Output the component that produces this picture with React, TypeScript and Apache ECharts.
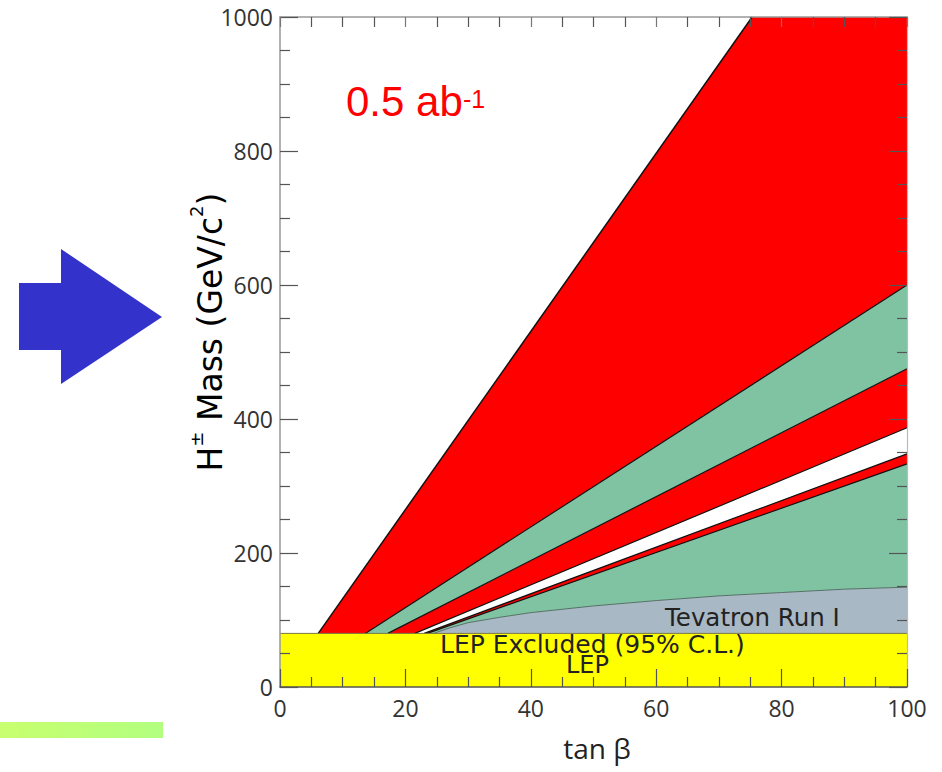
import React, { useEffect, useRef } from 'react';
import * as echarts from 'echarts';

// ---- data (tan beta, H+- mass in GeV/c^2) ----
const LEP_LIMIT = 80;
const X_RANGE = [0, 100];
const Y_RANGE = [0, 1000];
const topEdge = [[6.1, 80], [75.3, 1000]];
const redGreenUpper = [[13.6, 80], [100, 600]];
const greenRedLower = [[17.2, 80], [100, 475]];
const redWhite = [[21.5, 80], [100, 387]];
const whiteRed = [[23, 80], [100, 348]];
const redGreenLower = [[23.5, 80], [100, 333]];
const tevatronEdge = [
  [24.5, 80], [27, 88], [30, 96], [35, 104], [40, 111], [50, 121],
  [60, 129], [70, 136], [80, 141], [90, 146], [100, 149],
];

const RED = '#ff0000';
const GREEN = '#80c3a2';
const GRAY = '#a9b8c5';
const YELLOW = '#ffff00';

const rev = (a: number[][]) => a.slice().reverse();

const regions = [
  { color: YELLOW, pts: [[X_RANGE[0], 0], [X_RANGE[1], 0], [X_RANGE[1], LEP_LIMIT], [X_RANGE[0], LEP_LIMIT]] },
  { color: GRAY, pts: [...tevatronEdge, [X_RANGE[1], LEP_LIMIT]] },
  { color: GREEN, pts: [...redGreenLower, ...rev(tevatronEdge)] },
  { color: RED, pts: [...whiteRed, ...rev(redGreenLower)] },
  { color: RED, pts: [...greenRedLower, ...rev(redWhite)] },
  { color: GREEN, pts: [...redGreenUpper, ...rev(greenRedLower)] },
  { color: RED, pts: [...topEdge, [X_RANGE[1], Y_RANGE[1]], ...rev(redGreenUpper)] },
];

const boundaries = [
  { pts: topEdge, color: '#111', width: 1.5 },
  { pts: redGreenUpper, color: '#111', width: 1.2 },
  { pts: greenRedLower, color: '#111', width: 1.2 },
  { pts: redWhite, color: '#111', width: 1.2 },
  { pts: whiteRed, color: '#111', width: 1.2 },
  { pts: redGreenLower, color: '#111', width: 1.2 },
  { pts: tevatronEdge, color: '#557066', width: 1 },
  { pts: [[X_RANGE[0], LEP_LIMIT], [X_RANGE[1], LEP_LIMIT]], color: '#7a7a40', width: 1 },
];

const FONT = '"Open Sans", "Noto Sans", sans-serif';
const WIDE = '"DejaVu Sans", Verdana, sans-serif';

export default function App() {
  const ref = useRef<HTMLDivElement>(null);
  useEffect(() => {
    const chart = echarts.init(ref.current!, undefined, { renderer: 'svg' });
    const axisCommon = {
      type: 'value',
      z: 10,
      splitLine: { show: false },
      axisTick: { inside: true, length: 18, lineStyle: { color: '#555', width: 1.2 } },
      minorTick: { show: true, splitNumber: 4, length: 10, lineStyle: { color: '#555', width: 1.2 } },
    };
    chart.setOption({
      animation: false,
      backgroundColor: '#ffffff',
      grid: { left: 280, top: 17, right: 35, bottom: 85 },
      xAxis: [
        {
          ...axisCommon,
          position: 'bottom',
          min: X_RANGE[0], max: X_RANGE[1], interval: 20,
          axisLine: { show: true, onZero: false, lineStyle: { color: '#555', width: 1.5 } },
          axisLabel: { margin: 9, fontSize: 23, color: '#333', fontFamily: FONT, formatter: (v: number) => String(v) },
        },
        {
          ...axisCommon,
          position: 'top',
          min: X_RANGE[0], max: X_RANGE[1], interval: 20,
          axisLine: { show: true, onZero: false, lineStyle: { color: '#999', width: 1.5 } },
          axisTick: { inside: true, length: 10, lineStyle: { color: '#777', width: 1.2 } },
          axisLabel: { show: false },
        },
      ],
      yAxis: [
        {
          ...axisCommon,
          position: 'left',
          min: Y_RANGE[0], max: Y_RANGE[1], interval: 200,
          axisLine: { show: true, onZero: false, lineStyle: { color: '#999', width: 1.5 } },
          axisLabel: { margin: 7, fontSize: 23, color: '#333', fontFamily: FONT, formatter: (v: number) => String(v) },
        },
        {
          ...axisCommon,
          position: 'right',
          min: Y_RANGE[0], max: Y_RANGE[1], interval: 200,
          axisLine: { show: true, onZero: false, lineStyle: { color: '#bbb', width: 1.2 } },
          axisLabel: { show: false },
        },
      ],
      series: [
        {
          type: 'custom',
          z: 1,
          xAxisIndex: 0,
          yAxisIndex: 0,
          data: regions.map((_, i) => [i]),
          renderItem: (params: any, api: any) => {
            const r = regions[params.dataIndex];
            return {
              type: 'polygon',
              shape: { points: r.pts.map((p) => api.coord(p)) },
              style: { fill: r.color, stroke: null },
            };
          },
          silent: true,
        },
        {
          type: 'custom',
          z: 2,
          xAxisIndex: 0,
          yAxisIndex: 0,
          data: boundaries.map((_, i) => [i]),
          renderItem: (params: any, api: any) => {
            const b = boundaries[params.dataIndex];
            return {
              type: 'polyline',
              shape: { points: b.pts.map((p) => api.coord(p)) },
              style: { fill: null, stroke: b.color, lineWidth: b.width },
            };
          },
          silent: true,
        },
      ],
      graphic: [
        {
          type: 'polygon',
          shape: { points: [[19, 283], [61, 283], [61, 249], [162, 317], [61, 384], [61, 350], [19, 350]] },
          style: { fill: '#3333cc' },
        },
        {
          type: 'rect',
          shape: { x: 0, y: 722, width: 163, height: 16 },
          style: {
            fill: new echarts.graphic.LinearGradient(0, 0, 1, 0, [
              { offset: 0, color: '#c8ff6e' },
              { offset: 1, color: '#b2ff80' },
            ]),
          },
        },
        {
          type: 'text',
          x: 346, y: 122,
          style: { text: '0.5 ab', fontSize: 42, fontFamily: '"Liberation Sans", Arial, sans-serif', fill: '#ff0000', textVerticalAlign: 'bottom' },
        },
        {
          type: 'text',
          x: 463, y: 86,
          style: { text: '-1', fontSize: 25, fontFamily: '"Liberation Sans", Arial, sans-serif', fill: '#ff0000', textVerticalAlign: 'top' },
        },
        {
          type: 'text',
          x: 207, y: 332,
          rotation: Math.PI / 2,
          style: {
            text: '{m|H}{s|±}{m| Mass (GeV/c}{s|2}{m|)}',
            textAlign: 'center',
            textVerticalAlign: 'middle',
            rich: {
              m: { fontSize: 33, fontFamily: WIDE, color: '#222', lineHeight: 40, verticalAlign: 'bottom' },
              s: { fontSize: 18, fontFamily: WIDE, color: '#222', lineHeight: 40, verticalAlign: 'top' },
            },
          },
        },
        {
          type: 'text',
          x: 597, y: 748,
          style: { text: 'tan β', fontSize: 28, fontFamily: FONT, fill: '#222', textAlign: 'center', textVerticalAlign: 'middle' },
        },
        {
          type: 'text',
          x: 665, y: 617,
          z: 20,
          style: { text: 'Tevatron Run I', fontSize: 24.5, fontFamily: WIDE, fill: '#222', textVerticalAlign: 'middle' },
        },
        {
          type: 'text',
          x: 440, y: 644,
          z: 20,
          style: { text: 'LEP Excluded (95% C.L.)', fontSize: 25, fontFamily: WIDE, fill: '#222', textVerticalAlign: 'middle' },
        },
        {
          type: 'text',
          x: 566, y: 665,
          z: 20,
          style: { text: 'LEP', fontSize: 24, fontFamily: WIDE, fill: '#222', textVerticalAlign: 'middle' },
        },
      ],
    });
    return () => chart.dispose();
  }, []);
  return (
    <div
      ref={ref}
      style={{ position: 'fixed', left: 0, top: 0, width: 942, height: 772, background: '#fff' }}
    />
  );
}
